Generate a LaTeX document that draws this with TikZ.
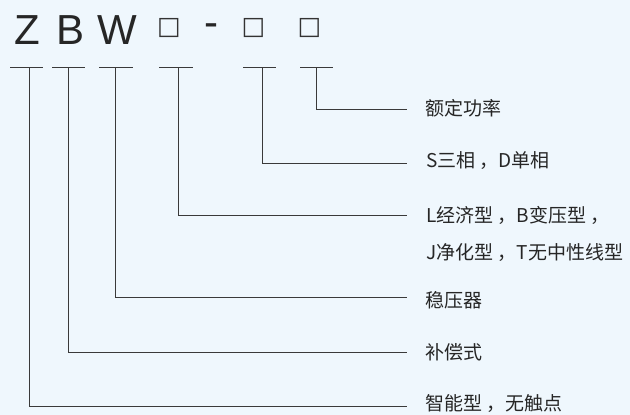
\documentclass[tikz,border=0pt]{standalone}
\usepackage{fontspec}
\setmainfont{Liberation Sans}
\newfontfamily\cjk{Noto Sans CJK SC}
\newfontfamily\dv{DejaVu Sans}
\definecolor{bgc}{HTML}{EFF7FD}
\definecolor{lnc}{HTML}{3A3A3A}
\begin{document}
\begin{tikzpicture}[x=1pt,y=-1pt,
  big/.style={inner sep=0pt,font=\fontsize{42}{42}\selectfont,text=black!85},
  sq/.style={inner sep=0pt,font=\dv\fontsize{25}{25}\selectfont,text=black!80},
  lbl/.style={anchor=west,inner sep=0pt,font=\cjk\fontsize{19}{19}\selectfont,text=black!85},
  bar/.style={draw=lnc,line width=0.9pt},
  conn/.style={draw=lnc,line width=0.9pt}]
\useasboundingbox (0,0) rectangle (630,415);
\clip (0,0) rectangle (630,415);
\fill[bgc] (0,0) rectangle (630,415);
% code letters
\node[big,anchor=base west] (cz) at (14,44) {Z};
\node[big,anchor=base west] (cb) at (56,44) {B};
\node[big,anchor=base west] (cw) at (97,44) {W};
\node[sq] (s1) at (169,28.5) {□};
\node[big] (dash) at (211.5,30) {-};
\node[sq] (s2) at (253.5,28.5) {□};
\node[sq] (s3) at (309.5,28.5) {□};
% top bars
\draw[bar] (10,67) -- (43,67);
\draw[bar] (52,67) -- (85,67);
\draw[bar] (99,67) -- (133,67);
\draw[bar] (159,67) -- (193,67);
\draw[bar] (243,67) -- (276,67);
\draw[bar] (300,67) -- (333,67);
\coordinate (tz) at (29.3,67);
\coordinate (tb) at (68.7,67);
\coordinate (tw) at (115.3,67);
\coordinate (t1) at (178,67);
\coordinate (t2) at (262,67);
\coordinate (t3) at (316.7,67);
\coordinate (e3) at (407,109);
\coordinate (e2) at (407,163);
\coordinate (e1) at (407,215.7);
\coordinate (ew) at (407,297);
\coordinate (eb) at (407,352.7);
\coordinate (ez) at (407,406.3);
% labels
\node[lbl] (l3) at (425,108) {额定功率};
\node[lbl] (l2) at (426,161) {S三相 ，D单相};
\node[lbl] (l1a) at (426,215) {L经济型 ，B变压型 ，};
\node[lbl] (l1b) at (426,253) {J净化型 ，T无中性线型};
\node[lbl] (lw) at (425,300) {稳压器};
\node[lbl] (lb) at (425,352) {补偿式};
\node[lbl] (lz) at (425,404) {智能型 ，无触点};
% connectors
\draw[conn] (t3) |- (e3);
\draw[conn] (t2) |- (e2);
\draw[conn] (t1) |- (e1);
\draw[conn] (tw) |- (ew);
\draw[conn] (tb) |- (eb);
\draw[conn] (tz) |- (ez);
\end{tikzpicture}
\end{document}
